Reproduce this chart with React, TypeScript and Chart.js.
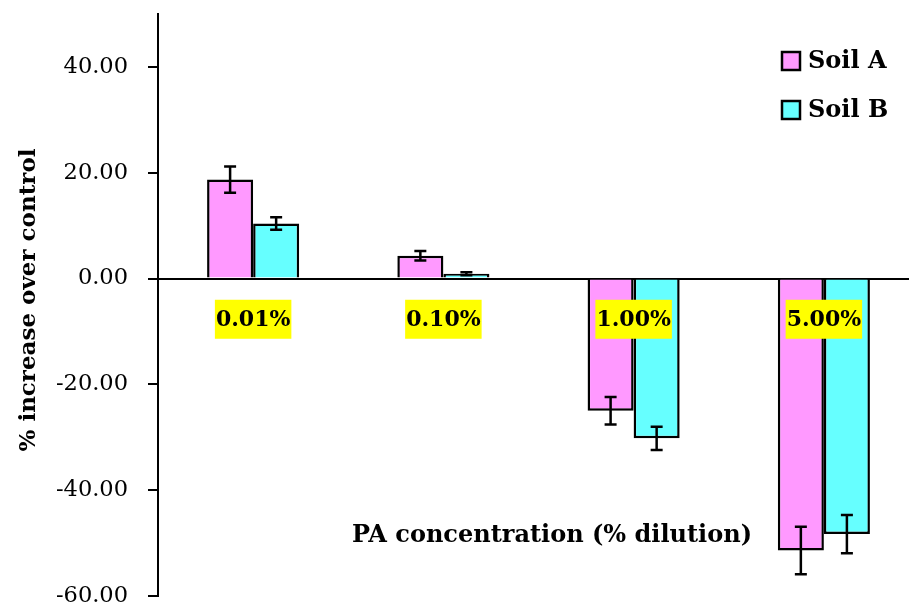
import React, { useEffect, useRef } from "react";
import { Chart, registerables } from "chart.js";

Chart.register(...registerables);

const categories = ["0.01%", "0.10%", "1.00%", "5.00%"];
const soilA = [18.7, 4.3, -25.0, -51.4];
const soilAErr = [2.5, 0.9, 2.6, 4.5];
const soilB = [10.4, 0.9, -30.2, -48.3];
const soilBErr = [1.2, 0.3, 2.2, 3.6];
const yTicks = [-60, -40, -20, 0, 20, 40];
const seriesNames = ["Soil A", "Soil B"];

const PINK = "#FF99FF";
const CYAN = "#66FFFF";
const FONT = "'DejaVu Serif', serif";

const overlayPlugin = {
  id: "overlay",
  afterDatasetsDraw(chart: any) {
    const { ctx, scales } = chart;
    const y = scales.y;
    ctx.save();
    // error bars
    const errs = [soilAErr, soilBErr];
    const vals = [soilA, soilB];
    for (let d = 0; d < 2; d++) {
      const meta = chart.getDatasetMeta(d);
      meta.data.forEach((bar: any, i: number) => {
        const v = vals[d][i];
        const e = errs[d][i];
        const x = bar.x;
        const y1 = y.getPixelForValue(v + e);
        const y2 = y.getPixelForValue(v - e);
        ctx.strokeStyle = "#000";
        ctx.lineWidth = 2.5;
        ctx.beginPath();
        ctx.moveTo(x, y1);
        ctx.lineTo(x, y2);
        ctx.moveTo(x - 6, y1);
        ctx.lineTo(x + 6, y1);
        ctx.moveTo(x - 6, y2);
        ctx.lineTo(x + 6, y2);
        ctx.stroke();
      });
    }
    // category labels with yellow background
    ctx.font = `bold 22px ${FONT}`;
    ctx.textAlign = "center";
    ctx.textBaseline = "middle";
    const ly = y.getPixelForValue(-7.6);
    categories.forEach((c, i) => {
      const cx = scales.x.getPixelForValue(i);
      const w = ctx.measureText(c).width + 2;
      ctx.fillStyle = "#FFFF00";
      ctx.fillRect(cx - w / 2, ly - 19, w, 39);
      ctx.fillStyle = "#000";
      ctx.fillText(c, cx, ly + 2);
    });
    // x axis title
    ctx.font = `bold 24px ${FONT}`;
    ctx.fillStyle = "#000";
    ctx.fillText("PA concentration (% dilution)", 552, 536);
    // y axis title
    ctx.save();
    ctx.translate(29, 300);
    ctx.rotate(-Math.PI / 2);
    ctx.font = `bold 23px ${FONT}`;
    ctx.fillText("% increase over control", 0, 0);
    ctx.restore();
    // legend
    const colors = [PINK, CYAN];
    const legendY = [61, 110];
    ctx.font = `bold 24px ${FONT}`;
    ctx.textAlign = "left";
    for (let k = 0; k < 2; k++) {
      ctx.fillStyle = colors[k];
      ctx.fillRect(782, legendY[k] - 9, 18, 18);
      ctx.strokeStyle = "#000";
      ctx.lineWidth = 2.5;
      ctx.strokeRect(782, legendY[k] - 9, 18, 18);
      ctx.fillStyle = "#000";
      ctx.fillText(seriesNames[k], 808, legendY[k] + 1);
    }
    ctx.restore();
  },
};

export default function App() {
  const ref = useRef<HTMLCanvasElement>(null);
  useEffect(() => {
    if (!ref.current) return;
    const chart = new Chart(ref.current, {
      type: "bar",
      data: {
        labels: categories,
        datasets: [
          {
            label: seriesNames[0],
            data: soilA,
            backgroundColor: PINK,
            borderColor: "#000",
            borderWidth: 2.5,
            borderSkipped: "start",
          },
          {
            label: seriesNames[1],
            data: soilB,
            backgroundColor: CYAN,
            borderColor: "#000",
            borderWidth: 2.5,
            borderSkipped: "start",
          },
        ],
      },
      options: {
        animation: false,
        responsive: false,
        maintainAspectRatio: false,
        layout: { padding: { top: 14, bottom: 10, left: 0, right: 1 } },
        datasets: {
          bar: { barPercentage: 1, categoryPercentage: 0.484 },
        },
        plugins: {
          legend: { display: false },
          tooltip: { enabled: false },
        },
        scales: {
          x: { display: false },
          y: {
            min: -60,
            max: 50,
            afterFit(scale: any) {
              scale.width = 158;
              scale.paddingTop = 0;
              scale.paddingBottom = 0;
            },
            afterBuildTicks(scale: any) {
              scale.ticks = yTicks.map((v) => ({ value: v }));
            },
            ticks: {
              color: "#000",
              padding: 20,
              font: { family: FONT, size: 22.5 },
              callback: (v: any) => Number(v).toFixed(2),
            },
            grid: {
              color: (c: any) => (c.tick && c.tick.value === 0 ? "#000" : "rgba(0,0,0,0)"),
              tickColor: "#000",
              lineWidth: 2,
              tickLength: 10,
              drawOnChartArea: true,
            },
            border: { display: true, color: "#000", width: 2 },
          },
        },
      },
      plugins: [overlayPlugin],
    });
    return () => chart.destroy();
  }, []);
  return (
    <div
      style={{
        position: "fixed",
        left: 0,
        top: 0,
        width: 909,
        height: 606,
        overflow: "hidden",
        background: "#fff",
      }}
    >
      <canvas ref={ref} width={920} height={606} style={{ display: "block" }} />
    </div>
  );
}
